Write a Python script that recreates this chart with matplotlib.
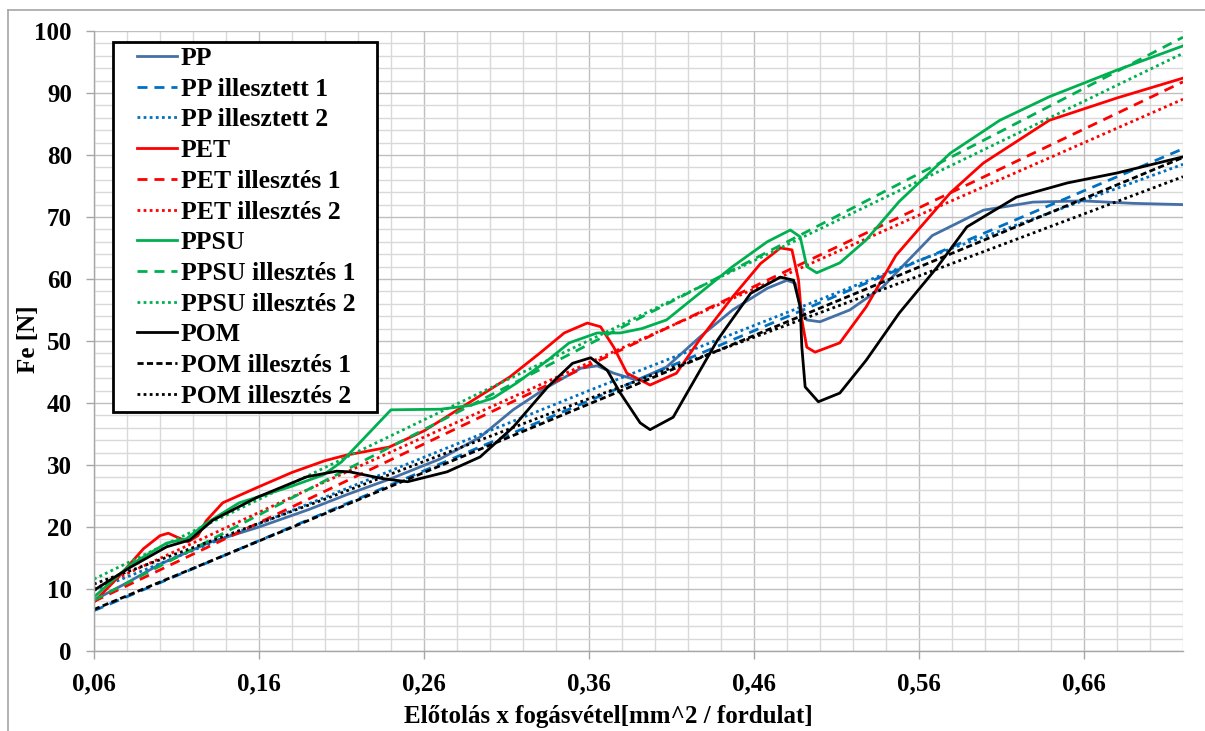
import numpy as np
import matplotlib
matplotlib.use("Agg")
import matplotlib.pyplot as plt
from matplotlib.patches import Rectangle
from matplotlib.ticker import MultipleLocator, FixedLocator, FuncFormatter

plt.rcParams['font.family'] = ['Liberation Serif', 'DejaVu Serif']
plt.rcParams['font.weight'] = 'bold'

# --- mért görbék (leolvasott pontok) ---
pp_x = [0.06, 0.08, 0.10, 0.13, 0.16, 0.19, 0.213, 0.24, 0.27, 0.294, 0.314, 0.335,
        0.355, 0.365, 0.375, 0.389, 0.407, 0.427, 0.447, 0.468, 0.48, 0.485, 0.488,
        0.492, 0.50, 0.518, 0.538, 0.548, 0.568, 0.599, 0.629, 0.659, 0.69, 0.72]
pp_y = [8.2, 11.0, 14.0, 17.5, 20.0, 22.8, 25.2, 27.8, 31.0, 34.5, 38.9, 42.6,
        45.6, 46.0, 44.8, 43.7, 45.8, 50.6, 55.0, 58.5, 59.8, 59.3, 55.5,
        53.4, 53.1, 55.0, 58.7, 61.5, 67.0, 71.1, 72.4, 72.6, 72.2, 72.0]

pet_x = [0.06, 0.075, 0.09, 0.10, 0.105, 0.11, 0.117, 0.123, 0.128, 0.138, 0.16, 0.18,
         0.20, 0.213, 0.239, 0.26, 0.29, 0.312, 0.33, 0.345, 0.359, 0.367, 0.375, 0.383,
         0.397, 0.413, 0.427, 0.447, 0.464, 0.476, 0.483, 0.487, 0.489, 0.492, 0.497,
         0.512, 0.528, 0.546, 0.579, 0.599, 0.639, 0.68, 0.72]
pet_y = [7.9, 12.0, 16.5, 18.6, 19.0, 18.4, 17.6, 18.6, 21.0, 23.9, 26.5, 28.8,
         30.7, 31.6, 32.9, 35.5, 40.5, 44.2, 48.0, 51.3, 52.9, 52.3, 49.0, 44.8,
         42.9, 44.8, 50.2, 57.1, 62.5, 65.0, 64.7, 59.8, 53.4, 49.0, 48.2,
         49.7, 55.5, 63.8, 73.9, 78.7, 85.6, 89.2, 92.4]

ppsu_x = [0.06, 0.082, 0.104, 0.116, 0.128, 0.148, 0.179, 0.199, 0.21, 0.24, 0.27, 0.288,
          0.302, 0.316, 0.335, 0.348, 0.365, 0.379, 0.392, 0.407, 0.427, 0.447, 0.468,
          0.482, 0.488, 0.492, 0.498, 0.512, 0.528, 0.548, 0.579, 0.609, 0.639, 0.68, 0.72]
ppsu_y = [8.7, 13.9, 17.4, 18.1, 20.6, 23.9, 26.5, 28.4, 30.5, 38.9, 39.0, 39.6,
          40.8, 43.2, 46.9, 49.7, 51.3, 51.3, 52.0, 53.4, 57.7, 62.0, 66.0,
          67.9, 66.8, 62.0, 61.0, 62.6, 66.3, 72.5, 80.3, 85.6, 89.4, 93.7, 97.6]

pom_x = [0.06, 0.082, 0.104, 0.118, 0.132, 0.159, 0.189, 0.207, 0.215, 0.235, 0.25, 0.274,
         0.294, 0.314, 0.335, 0.35, 0.361, 0.371, 0.379, 0.391, 0.397, 0.411, 0.417,
         0.438, 0.458, 0.476, 0.484, 0.488, 0.489, 0.491, 0.499, 0.512, 0.528, 0.548,
         0.571, 0.589, 0.619, 0.65, 0.68, 0.72]
pom_y = [9.8, 13.5, 16.8, 17.9, 21.1, 24.8, 28.1, 29.0, 28.9, 27.8, 27.3, 28.9,
         31.3, 36.1, 42.6, 46.4, 47.3, 45.3, 41.6, 36.8, 35.7, 37.7, 40.5,
         50.2, 57.7, 60.3, 59.8, 55.5, 49.0, 42.6, 40.2, 41.6, 46.9, 54.5,
         61.9, 68.4, 73.2, 75.5, 77.1, 79.7]

# --- illesztések ---
fit_x = [0.06, 0.72]
pp_fit1 = [6.5, 81.0]
pet_fit1 = [8.0, 91.8]
ppsu_fit1 = [8.2, 99.0]
pom_fit1 = [6.7, 79.6]

fit2_x = [0.06, 0.20, 0.36, 0.56, 0.72]
pp_fit2 = [9.8, 24.8, 42.0, 63.0, 78.5]
pet_fit2 = [10.0, 27.3, 46.5, 70.3, 89.0]
ppsu_fit2 = [11.6, 29.6, 50.1, 75.8, 96.4]
pom_fit2 = [10.8, 24.5, 40.7, 60.5, 76.5]

x_ticks = [0.06, 0.16, 0.26, 0.36, 0.46, 0.56, 0.66]

fig = plt.figure(figsize=(12.05, 7.31), dpi=100)
ax = fig.add_axes([94 / 1205, 80 / 731, 1089 / 1205, 620 / 731])

lw = 2.0
dash_c = (3.6, 2.5)
dash_k = (2.2, 1.2)
dot = (1.0, 1.2)

ax.plot(pp_x, pp_y, color='#4470A6', lw=lw, label='PP')
ax.plot(fit_x, pp_fit1, color='#0070C0', lw=lw, dashes=dash_c, label='PP illesztett 1')
ax.plot(fit2_x, pp_fit2, color='#0070C0', lw=lw, dashes=dot, label='PP illesztett 2')
ax.plot(pet_x, pet_y, color='#FF0000', lw=lw, label='PET')
ax.plot(fit_x, pet_fit1, color='#FF0000', lw=lw, dashes=dash_c, label='PET illesztés 1')
ax.plot(fit2_x, pet_fit2, color='#FF0000', lw=lw, dashes=dot, label='PET illesztés 2')
ax.plot(ppsu_x, ppsu_y, color='#00B050', lw=lw, label='PPSU')
ax.plot(fit_x, ppsu_fit1, color='#00B050', lw=lw, dashes=dash_c, label='PPSU illesztés 1')
ax.plot(fit2_x, ppsu_fit2, color='#00B050', lw=lw, dashes=dot, label='PPSU illesztés 2')
ax.plot(pom_x, pom_y, color='black', lw=lw, label='POM')
ax.plot(fit_x, pom_fit1, color='black', lw=lw, dashes=dash_k, label='POM illesztés 1')
ax.plot(fit2_x, pom_fit2, color='black', lw=lw, dashes=dot, label='POM illesztés 2')

ax.set_xlim(0.06, 0.72)
ax.set_ylim(0, 100)
ax.xaxis.set_major_locator(FixedLocator(x_ticks))
ax.xaxis.set_minor_locator(MultipleLocator(0.02))
ax.yaxis.set_major_locator(MultipleLocator(10))
ax.yaxis.set_minor_locator(MultipleLocator(2))
ax.xaxis.set_major_formatter(FuncFormatter(lambda v, p: f"{v:.2f}".replace('.', ',')))

ax.grid(which='major', color='#BFBFBF', lw=1.0)
ax.grid(which='minor', color='#D9D9D9', lw=1.0)
ax.set_axisbelow(True)

for s in ['top', 'right']:
    ax.spines[s].set_visible(False)
for s in ['left', 'bottom']:
    ax.spines[s].set_color('#A6A6A6')
    ax.spines[s].set_linewidth(1.0)

ax.tick_params(which='major', length=6, color='#A6A6A6', labelsize=18, width=1.0)
ax.tick_params(axis='y', which='major', pad=10)
ax.tick_params(axis='x', which='major', pad=9)
ax.tick_params(which='minor', length=0)
for lab in ax.get_xticklabels() + ax.get_yticklabels():
    lab.set_fontweight('bold')

fig.text(608 / 1205, 1 - 716 / 731, 'Előtolás x fogásvétel[mm^2 / fordulat]',
         ha='center', va='center', fontsize=18, fontweight='bold')
fig.text(28 / 1205, 1 - 339 / 731, 'Fe [N]', rotation=90,
         ha='center', va='center', fontsize=18, fontweight='bold')

# jelmagyarázat: külön rajzolt keret, mint az Excelben
ax.add_patch(Rectangle((19 / 1089, 239 / 620), 264 / 1089, 370 / 620,
                       transform=ax.transAxes, facecolor='white', edgecolor='black',
                       lw=2.0, zorder=4))
leg = ax.legend(loc='upper left', bbox_to_anchor=(43 / 1089, (651 - 47) / 620),
                borderaxespad=0, borderpad=0, fontsize=18.5, frameon=False,
                handlelength=1.55, handletextpad=0.15, labelspacing=0.3)
leg.set_zorder(5)
for t in leg.get_texts():
    t.set_fontweight('bold')

# keret a diagram körül
fig.add_artist(plt.Line2D([8 / 1205, 8 / 1205], [0, 1 - 10 / 731],
                          transform=fig.transFigure, color='#A6A6A6', lw=1.2))
fig.add_artist(plt.Line2D([8 / 1205, 1], [1 - 10 / 731, 1 - 10 / 731],
                          transform=fig.transFigure, color='#A6A6A6', lw=1.2))

fig.savefig('out.png', dpi=100)
